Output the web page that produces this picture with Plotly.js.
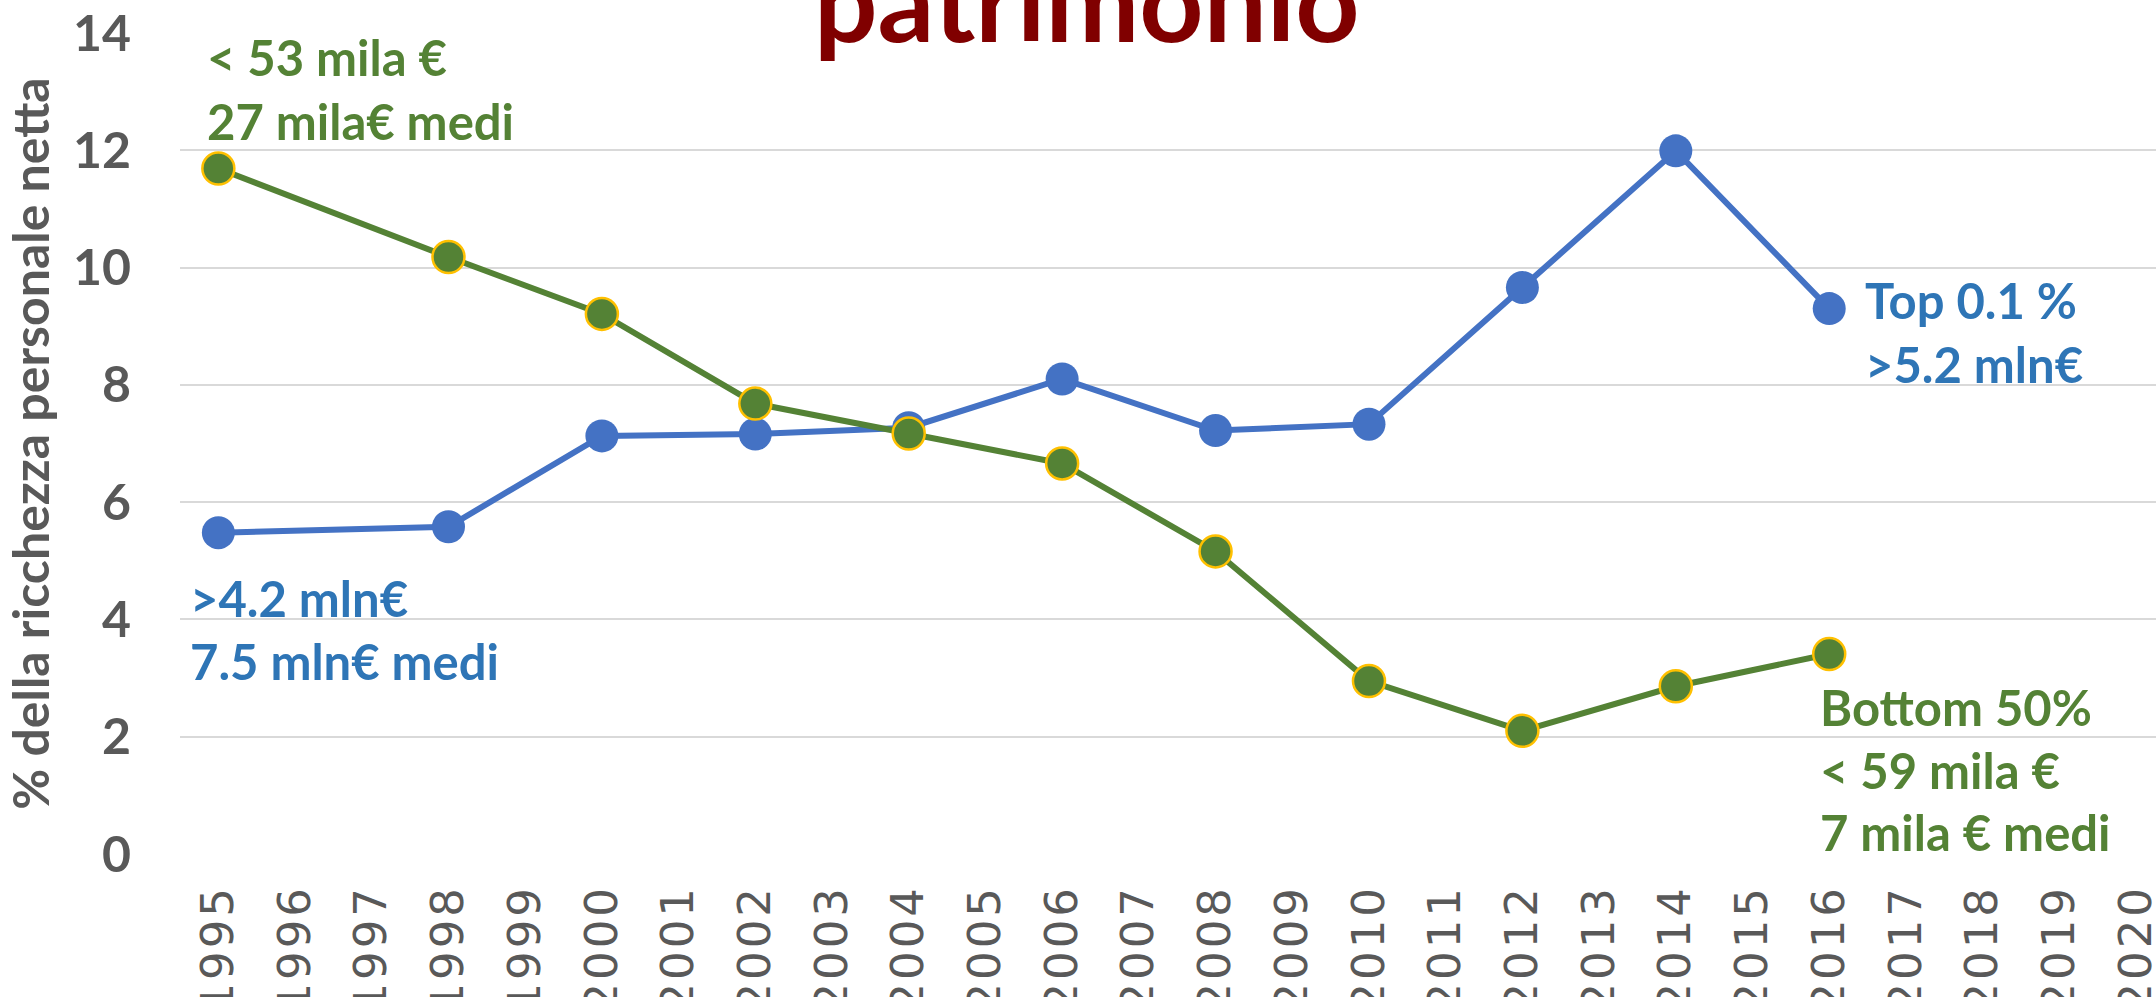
<!DOCTYPE html>
<html>
<head>
<meta charset="utf-8">
<script src="https://cdn.plot.ly/plotly-3.0.1.min.js"></script>
<style>
html,body{margin:0;padding:0;background:#fff;}
#chart{width:2156px;height:997px;}
.xtick text{letter-spacing:3px;}
</style>
</head>
<body>
<div id="chart"></div>
<script>
// ---- data ----
const years = [1995, 1998, 2000, 2002, 2004, 2006, 2008, 2010, 2012, 2014, 2016];
const top01 = [5.48, 5.58, 7.13, 7.16, 7.27, 8.10, 7.22, 7.33, 9.66, 11.99, 9.30];
const bottom50 = [11.69, 10.18, 9.21, 7.68, 7.17, 6.66, 5.16, 2.95, 2.10, 2.86, 3.41];
const yearTicks = [1995,1996,1997,1998,1999,2000,2001,2002,2003,2004,2005,2006,2007,2008,2009,2010,2011,2012,2013,2014,2015,2016,2017,2018,2019,2020];
const yTicks = [0, 2, 4, 6, 8, 10, 12, 14];
const titleText = "patrimonio";
const yTitle = "% della ricchezza personale netta";
const bottomLabels = ["< 53 mila €", "27 mila€ medi"];
const topLabels = [">4.2 mln€", "7.5 mln€ medi"];
const topEndLabels = ["Top 0.1 %", ">5.2 mln€"];
const bottomEndLabels = ["Bottom 50%", "< 59 mila €", "7 mila € medi"];

const GREEN = "#548235", BLUE = "#4472C4", BLUE_TXT = "#2E75B6", GRAY = "#595959";

const traces = [
  {x: years, y: top01, type: "scatter", mode: "lines+markers", name: "Top 0.1%",
   line: {color: BLUE, width: 6}, marker: {color: BLUE, size: 33, line: {color: BLUE, width: 0}}},
  {x: years, y: bottom50, type: "scatter", mode: "lines+markers", name: "Bottom 50%",
   line: {color: GREEN, width: 6}, marker: {color: GREEN, size: 32, line: {color: "#FFC000", width: 2.5}}}
];

const lblFont = (c) => ({family: "Lato", size: 49, color: c, weight: 700});
const annotations = [];
function addLines(lines, x, y0, dy, color) {
  lines.forEach((t, i) => annotations.push({
    text: t, x: x, y: y0 - i * dy, xref: "x", yref: "y", xanchor: "left", yanchor: "middle",
    showarrow: false, font: lblFont(color)
  }));
}
addLines(bottomLabels, 1994.82, 13.59, 1.09, GREEN);
addLines(topLabels, 1994.6, 4.37, 1.08, BLUE_TXT);
addLines(topEndLabels, 2016.44, 9.45, 1.09, BLUE_TXT);
addLines(bottomEndLabels, 2015.85, 2.51, 1.07, GREEN);
annotations.push({text: titleText, x: 2006.32, y: 13.40, xref: "x", yref: "y",
  xanchor: "center", yanchor: "bottom", showarrow: false,
  font: {family: "Lato", size: 112, color: "#800000", weight: 700}});

const layout = {
  width: 2156, height: 997,
  margin: {l: 180, r: 0, t: 33, b: 143},
  paper_bgcolor: "#fff", plot_bgcolor: "#fff",
  showlegend: false,
  xaxis: {range: [1994.5, 2020.26], tickvals: yearTicks, ticktext: yearTicks.map(String),
    tickangle: -90, tickfont: {family: "DejaVu Sans", size: 45, color: GRAY},
    showgrid: false, zeroline: false, showline: false, ticks: "", ticklabelstandoff: 21,
    ticklabeloverflow: "allow"},
  yaxis: {range: [0, 14], tickvals: yTicks, ticktext: yTicks.map(String),
    tickfont: {family: "Lato", size: 50, color: GRAY, weight: 700},
    gridcolor: "#D9D9D9", gridwidth: 2, zeroline: false, showline: false, ticks: "",
    ticklabelstandoff: 48,
    title: {text: yTitle, font: {family: "Lato", size: 50, color: GRAY, weight: 700}, standoff: 10}},
  annotations: annotations
};
Plotly.newPlot("chart", traces, layout, {displayModeBar: false, staticPlot: true});
</script>
</body>
</html>
